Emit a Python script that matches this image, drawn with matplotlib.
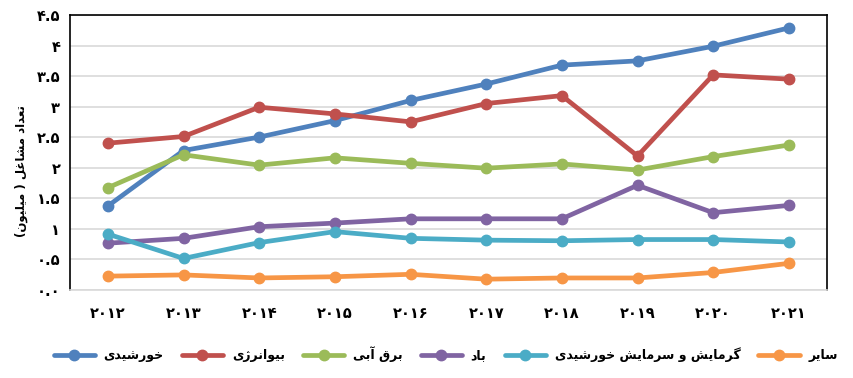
import matplotlib
matplotlib.use("Agg")
import matplotlib.pyplot as plt
from matplotlib.lines import Line2D

years = ["۲۰۱۲", "۲۰۱۳", "۲۰۱۴", "۲۰۱۵", "۲۰۱۶", "۲۰۱۷", "۲۰۱۸", "۲۰۱۹", "۲۰۲۰", "۲۰۲۱"]
solar_pv = [1.37, 2.28, 2.50, 2.77, 3.10, 3.37, 3.68, 3.75, 3.99, 4.29]
bioenergy = [2.40, 2.51, 2.99, 2.88, 2.75, 3.05, 3.18, 2.19, 3.52, 3.45]
hydro = [1.67, 2.21, 2.04, 2.16, 2.07, 1.99, 2.06, 1.96, 2.18, 2.37]
wind = [0.76, 0.84, 1.03, 1.09, 1.16, 1.16, 1.16, 1.71, 1.26, 1.38]
solar_heat = [0.91, 0.51, 0.77, 0.95, 0.84, 0.81, 0.80, 0.82, 0.82, 0.78]
other = [0.22, 0.24, 0.19, 0.21, 0.25, 0.17, 0.19, 0.19, 0.28, 0.43]

series_names = ["خورشیدی", "بیوانرژی", "برق آبی", "باد", "گرمایش و سرمایش خورشیدی", "سایر"]
y_label = "تعداد مشاغل ( میلیون)"
y_ticks = [0, 0.5, 1, 1.5, 2, 2.5, 3, 3.5, 4, 4.5]
y_tick_labels = ["٠.٠", "٠.۵", "۱", "۱.۵", "۲", "۲.۵", "۳", "۳.۵", "۴", "۴.۵"]
colors = ["#4F81BD", "#C0504D", "#9BBB59", "#8064A2", "#4BACC6", "#F79646"]

# --- minimal Persian shaping (presentation forms) + visual reordering ---
FORMS = {
    'ا': ('\uFE8D', '\uFE8E', None, None),
    'آ': ('\uFE81', '\uFE82', None, None),
    'ب': ('\uFE8F', '\uFE90', '\uFE91', '\uFE92'),
    'ت': ('\uFE95', '\uFE96', '\uFE97', '\uFE98'),
    'خ': ('\uFEA5', '\uFEA6', '\uFEA7', '\uFEA8'),
    'د': ('\uFEA9', '\uFEAA', None, None),
    'ر': ('\uFEAD', '\uFEAE', None, None),
    'ژ': ('\uFB8A', '\uFB8B', None, None),
    'س': ('\uFEB1', '\uFEB2', '\uFEB3', '\uFEB4'),
    'ش': ('\uFEB5', '\uFEB6', '\uFEB7', '\uFEB8'),
    'ع': ('\uFEC9', '\uFECA', '\uFECB', '\uFECC'),
    'غ': ('\uFECD', '\uFECE', '\uFECF', '\uFED0'),
    'ق': ('\uFED5', '\uFED6', '\uFED7', '\uFED8'),
    'گ': ('\uFB92', '\uFB93', '\uFB94', '\uFB95'),
    'ل': ('\uFEDD', '\uFEDE', '\uFEDF', '\uFEE0'),
    'م': ('\uFEE1', '\uFEE2', '\uFEE3', '\uFEE4'),
    'ن': ('\uFEE5', '\uFEE6', '\uFEE7', '\uFEE8'),
    'و': ('\uFEED', '\uFEEE', None, None),
    'ی': ('\uFBFC', '\uFBFD', '\uFBFE', '\uFBFF'),
}
MIRROR = {'(': ')', ')': '('}


def shape(text):
    out = []
    n = len(text)
    for i, ch in enumerate(text):
        if ch not in FORMS:
            out.append(MIRROR.get(ch, ch))
            continue
        f = FORMS[ch]
        prev = text[i - 1] if i > 0 else None
        nxt = text[i + 1] if i < n - 1 else None
        jp = prev in FORMS and FORMS[prev][2] is not None
        jn = f[2] is not None and nxt in FORMS
        if jp and jn:
            out.append(f[3])
        elif jp:
            out.append(f[1])
        elif jn:
            out.append(f[2])
        else:
            out.append(f[0])
    return "".join(reversed(out))


plt.rcParams['font.family'] = ['DejaVu Sans']

fig = plt.figure(figsize=(8.54, 3.78), dpi=100)
ax = fig.add_axes([0.082, 0.234, 0.886, 0.726])

all_series = [solar_pv, bioenergy, hydro, wind, solar_heat, other]
x = list(range(len(years)))
handles = []
for vals, name, c in zip(all_series, series_names, colors):
    ax.plot(x, vals, color=c, lw=3.4, marker='o', markersize=7.5,
            solid_capstyle='round', solid_joinstyle='round', zorder=3)
    handles.append(Line2D([], [], color=c, lw=3.4, marker='o', markersize=7.5,
                          solid_capstyle='round'))

ax.set_xlim(-0.5, len(years) - 0.5)
ax.set_ylim(0, 4.5)
ax.set_yticks(y_ticks)
ax.set_yticklabels(y_tick_labels, fontsize=10.5, fontweight='bold')
ax.set_xticks(x)
ax.set_xticklabels(years, fontsize=10.5, fontweight='bold')
ax.tick_params(axis='y', length=0, pad=7)
ax.tick_params(axis='x', length=0, pad=12)
ax.yaxis.grid(True, color='#D9D9D9', lw=1.2)
ax.set_axisbelow(True)
for s in ['left', 'top', 'right']:
    ax.spines[s].set_color('black')
    ax.spines[s].set_linewidth(1.2)
ax.spines['bottom'].set_color('#D9D9D9')
ax.spines['bottom'].set_linewidth(1.2)

ax.set_ylabel(shape(y_label), fontsize=8.5, fontweight='bold')
ax.yaxis.set_label_coords(-0.055, 0.43)

fig.legend(handles, [shape(s) for s in series_names], loc='center',
           bbox_to_anchor=(0.522, 0.062), ncol=6, frameon=False,
           prop={'size': 9, 'weight': 'bold'}, handlelength=3.3,
           columnspacing=1.45, handletextpad=0.7)

fig.savefig("out.png", dpi=100)
